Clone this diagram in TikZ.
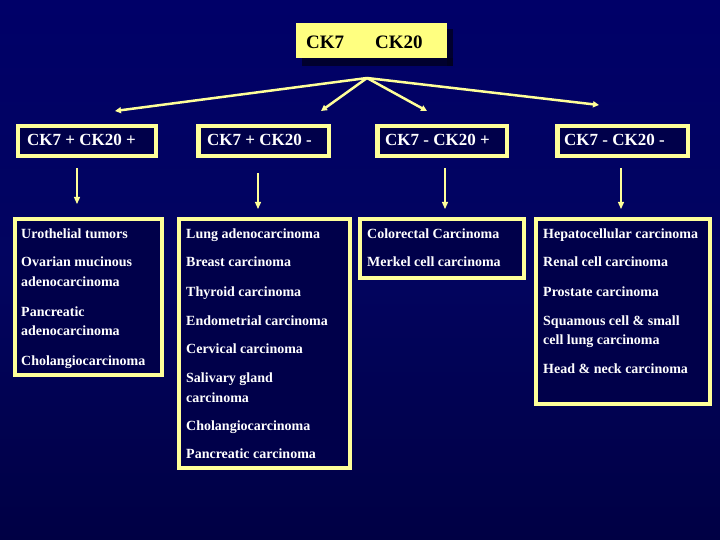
\documentclass[tikz,border=0pt]{standalone}
\usepackage{fontspec}
\setmainfont{Liberation Serif}
\usetikzlibrary{arrows.meta}
\definecolor{bgtop}{HTML}{000068}
\definecolor{bgmid}{HTML}{02045F}
\definecolor{bgbot}{HTML}{000044}
\definecolor{boxyellow}{HTML}{FFFF99}
\definecolor{topfill}{HTML}{FFFF80}
\definecolor{boxfill}{HTML}{00004A}
\definecolor{shadowc}{HTML}{000020}
\begin{document}
\begin{tikzpicture}[x=1bp,y=-1bp,
  hbox/.style={draw=boxyellow, line width=4.5bp, fill=boxfill, inner sep=0pt, minimum height=30bp},
  lbox/.style={draw=boxyellow, line width=4bp, fill=boxfill, inner sep=0pt},
  htext/.style={anchor=base west, inner sep=0pt, text=white, font=\fontsize{17bp}{20bp}\selectfont\bfseries},
  ltext/.style={anchor=base west, inner sep=0pt, text=white, font=\fontsize{14bp}{17bp}\selectfont\bfseries},
  fanarrow/.style={draw=boxyellow, line width=2.5bp, -{Triangle[length=6bp,width=6bp]}},
  downarrow/.style={draw=boxyellow, line width=1.3bp, -{Triangle[length=7bp,width=6bp]}}
]
\useasboundingbox (0,0) rectangle (720,540);
\shade[top color=bgtop, bottom color=bgbot, middle color=bgmid] (0,0) rectangle (720,540);

% top box with shadow
\node[fill=topfill, inner sep=0pt, minimum width=151bp, minimum height=35bp] (top) at (371.5,40.5) {};
\fill[shadowc, opacity=0.8] ([shift={(151,6)}]top.north west) rectangle ([shift={(6,8)}]top.south east);
\fill[shadowc, opacity=0.8] ([shift={(6,35)}]top.north west) rectangle ([shift={(6,8)}]top.south east);
\node[anchor=base west, inner sep=0pt, text=black, font=\fontsize{19bp}{22bp}\selectfont\bfseries] (tck) at (306,49) {CK7\hspace{31bp}CK20};

% fan arrows
\coordinate (fan) at (367,78);
\coordinate (a1) at (115,111);
\coordinate (a2) at (321,111);
\coordinate (a3) at (427,111);
\coordinate (a4) at (599,105);
\draw[fanarrow] (fan) -- (a1);
\draw[fanarrow] (fan) -- (a2);
\draw[fanarrow] (fan) -- (a3);
\draw[fanarrow] (fan) -- (a4);

% header boxes
\node[hbox, minimum width=137.5bp] (h1) at (87,141) {};
\node[hbox, minimum width=130.5bp] (h2) at (263.5,141) {};
\node[hbox, minimum width=129.5bp] (h3) at (442,141) {};
\node[hbox, minimum width=130.5bp] (h4) at (622.5,141) {};
\node[htext] (ht1) at (27,146) {CK7 + CK20 +};
\node[htext] (ht2) at (207,146) {CK7 + CK20 -};
\node[htext] (ht3) at (385,146) {CK7 - CK20 +};
\node[htext] (ht4) at (564,146) {CK7 - CK20 -};

% down arrows
\coordinate (d1s) at (77,168);  \coordinate (d1e) at (77,204);
\coordinate (d2s) at (258,173); \coordinate (d2e) at (258,209);
\coordinate (d3s) at (445,168); \coordinate (d3e) at (445,209);
\coordinate (d4s) at (621,168); \coordinate (d4e) at (621,209);
\draw[downarrow] (d1s) -- (d1e);
\draw[downarrow] (d2s) -- (d2e);
\draw[downarrow] (d3s) -- (d3e);
\draw[downarrow] (d4s) -- (d4e);

% lower boxes
\node[lbox, minimum width=147bp, minimum height=156bp] (c1) at (88.5,297) {};
\node[lbox, minimum width=171bp, minimum height=249bp] (c2) at (264.5,343.5) {};
\node[lbox, minimum width=164bp, minimum height=59bp] (c3) at (442,248.5) {};
\node[lbox, minimum width=174bp, minimum height=185bp] (c4) at (623,311.5) {};

% box 1 texts
\node[ltext] (t11) at (21,239) {Urothelial tumors};
\node[ltext] (t12) at (21,267) {Ovarian mucinous};
\node[ltext] (t13) at (21,287) {adenocarcinoma};
\node[ltext] (t14) at (21,316) {Pancreatic};
\node[ltext] (t15) at (21,335) {adenocarcinoma};
\node[ltext] (t16) at (21,365) {Cholangiocarcinoma};

% box 2 texts
\node[ltext] (t21) at (186,239) {Lung adenocarcinoma};
\node[ltext] (t22) at (186,267) {Breast carcinoma};
\node[ltext] (t23) at (186,296) {Thyroid carcinoma};
\node[ltext] (t24) at (186,325) {Endometrial carcinoma};
\node[ltext] (t25) at (186,353) {Cervical carcinoma};
\node[ltext] (t26) at (186,382) {Salivary gland};
\node[ltext] (t27) at (186,402) {carcinoma};
\node[ltext] (t28) at (186,430) {Cholangiocarcinoma};
\node[ltext] (t29) at (186,458) {Pancreatic carcinoma};

% box 3 texts
\node[ltext] (t31) at (367,239) {Colorectal Carcinoma};
\node[ltext] (t32) at (367,267) {Merkel cell carcinoma};

% box 4 texts
\node[ltext] (t41) at (543,239) {Hepatocellular carcinoma};
\node[ltext] (t42) at (543,267) {Renal cell carcinoma};
\node[ltext] (t43) at (543,296) {Prostate carcinoma};
\node[ltext] (t44) at (543,325) {Squamous cell \& small};
\node[ltext] (t45) at (543,344) {cell lung carcinoma};
\node[ltext] (t46) at (543,373) {Head \& neck carcinoma};
\end{tikzpicture}
\end{document}
